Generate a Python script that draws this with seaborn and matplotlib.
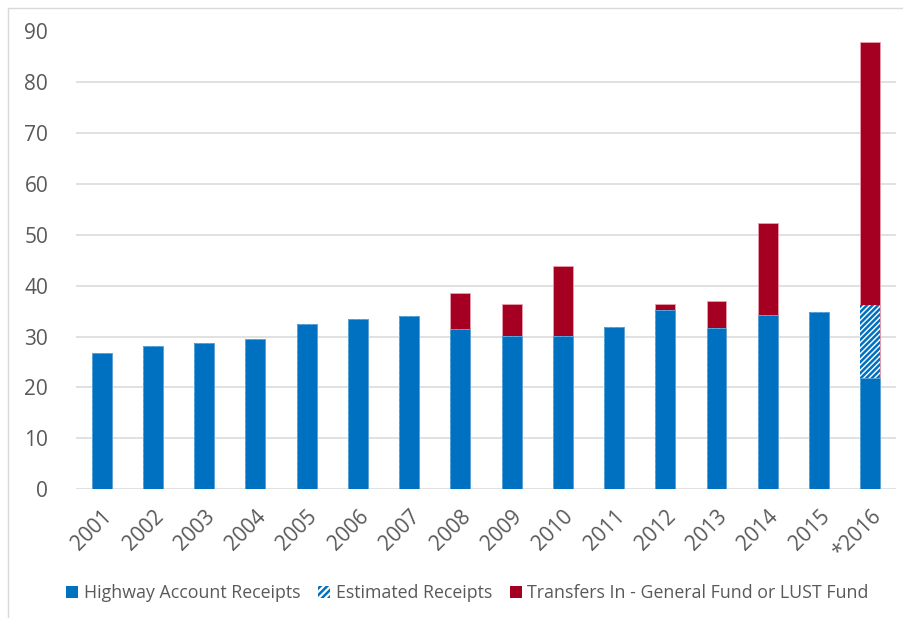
import matplotlib
matplotlib.use("Agg")
import matplotlib.pyplot as plt
import seaborn as sns
import numpy as np
import pandas as pd
from matplotlib.patches import Patch
from matplotlib.lines import Line2D

years = ["2001", "2002", "2003", "2004", "2005", "2006", "2007", "2008",
         "2009", "2010", "2011", "2012", "2013", "2014", "2015", "*2016"]
highway = [26.8, 28.1, 28.8, 29.6, 32.5, 33.5, 34.1, 31.4,
           30.1, 30.1, 31.8, 35.1, 31.6, 34.2, 34.8, 21.8]
estimated = [0, 0, 0, 0, 0, 0, 0, 0, 0, 0, 0, 0, 0, 0, 0, 14.3]
transfers = [0, 0, 0, 0, 0, 0, 0, 7.2, 6.2, 13.7, 0, 1.2, 5.3, 18.0, 0, 51.7]
yticks = [0, 10, 20, 30, 40, 50, 60, 70, 80, 90]

BLUE = "#0070C0"
RED = "#A50021"
TEXT = "#595959"
GRID = "#D9D9D9"

sns.set_theme(style="white")
plt.rcParams["font.family"] = ["Open Sans", "DejaVu Sans"]
plt.rcParams["hatch.linewidth"] = 1.8
plt.rcParams["hatch.color"] = BLUE

df = pd.DataFrame({"year": years, "highway": highway,
                   "estimated": estimated, "transfers": transfers})
df["lvl2"] = df["highway"] + df["estimated"]
df["lvl3"] = df["lvl2"] + df["transfers"]

fig = plt.figure(figsize=(9.04, 6.18), dpi=100)
ax = fig.add_axes([0.084, 0.208, 0.907, 0.7425])

bw = 0.39
sns.barplot(data=df, x="year", y="lvl3", color=RED, saturation=1, width=bw,
            ax=ax, linewidth=0.6, edgecolor="#E8A0AE", zorder=3)
n_before = len(ax.patches)
sns.barplot(data=df, x="year", y="lvl2", color="white", saturation=1, width=bw,
            ax=ax, linewidth=0, zorder=3)
for p in ax.patches[n_before:]:
    p.set_hatch("//////")
    p.set_edgecolor(BLUE)
    p.set_linewidth(0)
sns.barplot(data=df, x="year", y="highway", color=BLUE, saturation=1, width=bw,
            ax=ax, linewidth=0.6, edgecolor="#5FA8DC", zorder=3)

ax.set_xlim(-0.5, len(years) - 0.5)
ax.set_ylim(0, 90)
ax.set_yticks(yticks)
ax.set_xlabel("")
ax.set_ylabel("")
for y in yticks[:-1]:
    ax.axhline(y, color=GRID, linewidth=1.1, zorder=1)
for s in ax.spines.values():
    s.set_visible(False)
ax.tick_params(axis="y", labelsize=15, colors=TEXT, length=0, pad=20)
ax.tick_params(axis="x", labelsize=15, colors=TEXT, length=0, pad=12,
               labelrotation=45)
for lab in ax.get_xticklabels():
    lab.set_ha("right")
    lab.set_rotation_mode("anchor")

handles = [Patch(facecolor=BLUE, edgecolor=BLUE, linewidth=0),
           Patch(facecolor="white", edgecolor=BLUE, hatch="/////", linewidth=0),
           Patch(facecolor=RED, edgecolor=RED, linewidth=0)]
labels = ["Highway Account Receipts", "Estimated Receipts",
          "Transfers In - General Fund or LUST Fund"]
leg = fig.legend(handles, labels, loc="center", bbox_to_anchor=(0.517, 0.04),
                 ncol=3, frameon=False, fontsize=12.8, handlelength=0.7,
                 handleheight=0.7, handletextpad=0.3, columnspacing=1.0)
for t in leg.get_texts():
    t.set_color(TEXT)

fig.add_artist(Line2D([8 / 904, 8 / 904], [0, 1 - 8 / 618],
                      transform=fig.transFigure, color=GRID, linewidth=1))
fig.add_artist(Line2D([8 / 904, 1], [1 - 8 / 618, 1 - 8 / 618],
                      transform=fig.transFigure, color=GRID, linewidth=1))

fig.savefig("out.png", dpi=100)
